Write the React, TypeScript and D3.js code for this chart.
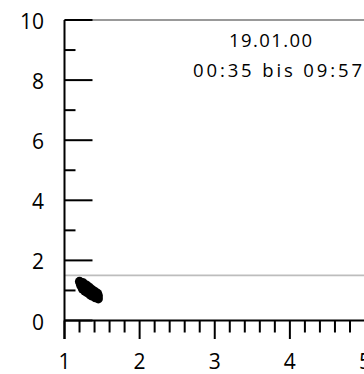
import React from "react";
import * as d3 from "d3";

// Measurement points (x, y)
const xValues = [
  1.2, 1.21, 1.22, 1.22, 1.24, 1.24, 1.25, 1.25, 1.27, 1.27, 1.28, 1.29, 1.3, 1.3,
  1.31, 1.32, 1.33, 1.34, 1.34, 1.35, 1.36, 1.37, 1.38, 1.38, 1.39, 1.4, 1.41,
  1.42, 1.43, 1.44, 1.45, 1.45, 1.41, 1.36,
];
const yValues = [
  1.3, 1.22, 1.27, 1.15, 1.2, 1.05, 1.12, 1.25, 1.14, 0.98, 1.06, 1.18, 1.08, 0.93,
  1.0, 1.12, 1.03, 0.95, 0.86, 1.06, 0.97, 0.9, 1.0, 0.82, 0.92, 0.85, 0.95,
  0.86, 0.8, 0.9, 0.82, 0.72, 0.76, 0.82,
];

const yTickLabels = [0, 2, 4, 6, 8, 10];
const xTickLabels = [1, 2, 3, 4, 5];
const referenceLevel = 1.5;
const titleLines = ["19.01.00", "00:35 bis 09:57"];

const W = 364;
const H = 374;

export default function App() {
  const x = d3.scaleLinear().domain([1, 5]).range([64.5, 365]);
  const y = d3.scaleLinear().domain([0, 10]).range([320.5, 20]);

  const yMinor = d3.range(0, 10.001, 1);
  const xMinor = d3.range(1, 5.001, 0.2);
  const font = "'Open Sans', 'Noto Sans', sans-serif";

  return (
    <svg
      width={W}
      height={H}
      style={{ position: "absolute", left: 0, top: 0, background: "#fff" }}
    >
      {/* top frame */}
      <line x1={x(1)} x2={W} y1={y(10)} y2={y(10)} stroke="#777" strokeWidth={1.5} />
      {/* reference level */}
      <line
        x1={x(1)}
        x2={W}
        y1={y(referenceLevel)}
        y2={y(referenceLevel)}
        stroke="#bdbdbd"
        strokeWidth={1.8}
      />

      {/* points */}
      {xValues.map((v, i) => (
        <circle key={i} cx={x(v)} cy={y(yValues[i])} r={4.6} fill="#000" />
      ))}

      {/* y axis */}
      <line x1={x(1)} x2={x(1)} y1={y(10)} y2={339} stroke="#000" strokeWidth={2} />
      {yMinor.map((v) => (
        <line
          key={v}
          x1={x(1)}
          x2={x(1) + (v % 2 === 0 ? 28 : 11)}
          y1={y(v)}
          y2={y(v)}
          stroke="#000"
          strokeWidth={2}
        />
      ))}
      {yTickLabels.map((v) => (
        <text
          key={v}
          x={44}
          y={y(v) + 9}
          textAnchor="end"
          fontFamily={font}
          fontSize={21}
          fill="#000"
        >
          {v}
        </text>
      ))}

      {/* x axis */}
      <line x1={x(1)} x2={W} y1={y(0)} y2={y(0)} stroke="#000" strokeWidth={2} />
      {xMinor.map((v, i) => (
        <line
          key={i}
          x1={x(v)}
          x2={x(v)}
          y1={y(0)}
          y2={y(0) + (i % 5 === 0 ? 18.5 : 12)}
          stroke="#000"
          strokeWidth={2}
        />
      ))}
      {xTickLabels.map((v) => (
        <text
          key={v}
          x={x(v)}
          y={369}
          textAnchor="middle"
          fontFamily={font}
          fontSize={21}
          fill="#000"
        >
          {v}
        </text>
      ))}

      {/* title */}
      <text
        x={229}
        y={46.7}
        fontFamily={font}
        fontSize={18.5}
        fill="#000"
        textLength={83}
        lengthAdjust="spacing"
      >
        {titleLines[0]}
      </text>
      <text
        x={193}
        y={77.3}
        fontFamily={font}
        fontSize={18.5}
        fill="#000"
        textLength={169}
        lengthAdjust="spacing"
      >
        {titleLines[1]}
      </text>
    </svg>
  );
}
